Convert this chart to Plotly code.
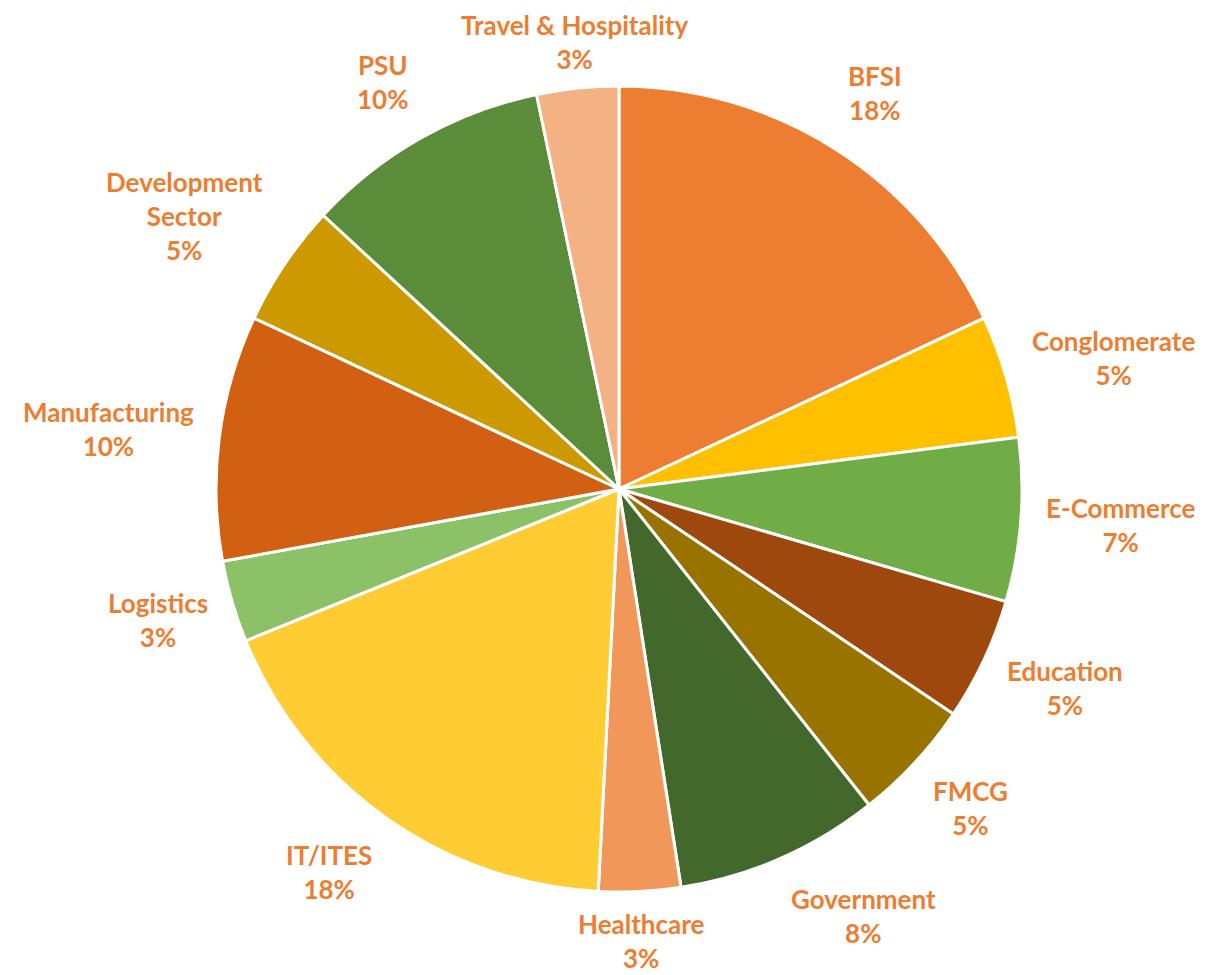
import math
import plotly.graph_objects as go

sectors = ["BFSI", "Conglomerate", "E-Commerce", "Education", "FMCG", "Government",
           "Healthcare", "IT/ITES", "Logistics", "Manufacturing", "Development Sector",
           "PSU", "Travel & Hospitality"]
counts = [11, 3, 4, 3, 3, 5, 2, 11, 2, 6, 3, 6, 2]
label_lines = [["BFSI"], ["Conglomerate"], ["E-Commerce"], ["Education"], ["FMCG"],
               ["Government"], ["Healthcare"], ["IT/ITES"], ["Logistics"],
               ["Manufacturing"], ["Development", "Sector"], ["PSU"],
               ["Travel & Hospitality"]]
colors = ["#ED7D31", "#FFC000", "#70AD47", "#9E480E", "#997300", "#43682B",
          "#F1975A", "#FFCD33", "#8CC168", "#D26012", "#CC9A00", "#5B8C3A", "#F4B183"]

# page is offset by the default 8px body margin
OFF = 8
W, H = 1227 - OFF, 975 - OFF
cx, cy, r = 619 - OFF, 489 - OFF, 401
FONT = "Lato"
FS = 26
LABEL_COLOR = "#ED7D31"

# approximate Lato Bold advance widths (em) for label box estimation
CW = {c: 0.57 for c in "bdhnopqu"}
CW.update({"a": 0.52, "c": 0.47, "e": 0.53, "f": 0.34, "g": 0.51, "i": 0.26, "j": 0.26,
           "k": 0.53, "l": 0.26, "m": 0.85, "r": 0.39, "s": 0.43, "t": 0.37, "v": 0.52,
           "w": 0.78, "x": 0.52, "y": 0.52, "z": 0.46, " ": 0.25, "&": 0.70, "/": 0.36,
           "-": 0.35, "%": 0.76})
CW.update({c: 0.58 for c in "0123456789"})
CW.update({"A": 0.68, "B": 0.64, "C": 0.66, "D": 0.74, "E": 0.55, "F": 0.53, "G": 0.71,
           "H": 0.75, "I": 0.29, "L": 0.49, "M": 0.90, "P": 0.61, "S": 0.53, "T": 0.58,
           "U": 0.72})


def text_w(s):
    return sum(CW.get(ch, 0.58) for ch in s) * FS


def clamp(v, lo=-1.0, hi=1.0):
    return max(lo, min(hi, v))


fig = go.Figure()
rd = r + 2
fig.add_trace(go.Pie(
    labels=sectors, values=counts, sort=False, direction="clockwise", rotation=0,
    marker=dict(colors=colors, line=dict(color="white", width=3)),
    textinfo="none", hoverinfo="label+percent",
    domain=dict(x=[(cx - rd) / W, (cx + rd) / W], y=[(H - cy - rd) / H, (H - cy + rd) / H]),
    showlegend=False,
))

total = sum(counts)
gap = 28
kx, ky, dead = 4.0, 1.2, 0.12
cum = 0
annotations = []
for name, c, lines in zip(sectors, counts, label_lines):
    theta = math.radians(360 * (cum + c / 2) / total)
    cum += c
    pct = f"{round(100 * c / total)}%"
    all_lines = lines + [pct]
    a = max(text_w(s) for s in all_lines) / 2
    b = FS * 1.3 * len(all_lines) / 2
    ux, uy = math.sin(theta), -math.cos(theta)
    # anchor point just outside the pie rim, box attached by the side facing the pie
    ax, ay = cx + (r + gap) * ux, cy + (r + gap) * uy
    sx = 0.0 if abs(ux) <= dead else math.copysign(clamp(kx * (abs(ux) - dead)), ux)
    px = ax + a * sx
    py = ay + b * clamp(ky * uy)
    # keep the label inside the drawing area
    py = max(py, b)
    py = min(py, H - b)
    annotations.append(dict(
        x=px / W, y=1 - py / H, xref="paper", yref="paper",
        text="<br>".join(all_lines), showarrow=False, align="center",
        xanchor="center", yanchor="middle",
        font=dict(family=FONT, size=FS, color=LABEL_COLOR, weight="bold"),
    ))

fig.update_layout(
    width=W, height=H,
    margin=dict(l=0, r=0, t=0, b=0),
    paper_bgcolor="white", plot_bgcolor="white",
    showlegend=False,
    annotations=annotations,
)

fig.write_html("out.html")
